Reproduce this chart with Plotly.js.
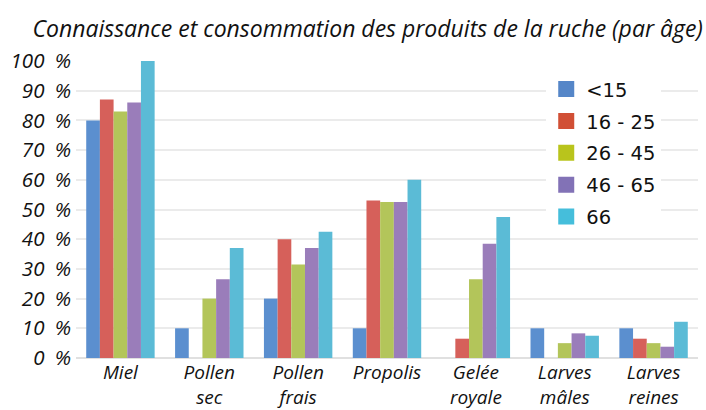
<!DOCTYPE html>
<html><head><meta charset="utf-8">
<script src="https://cdn.plot.ly/plotly-3.0.1.min.js"></script>
<style>body{margin:0;background:#fff}#c{width:706px;height:410px}</style>
</head><body><div id="c"></div>
<script>
const categories = ["Miel","Pollen<br>sec","Pollen<br>frais","Propolis","Gelée<br>royale","Larves<br>mâles","Larves<br>reines"];
const seriesNames = ["<15","16 - 25","26 - 45","46 - 65","66"];
const s1 = [80, 10, 20, 10, 0, 10, 10];
const s2 = [87, 0, 40, 53, 6.5, 0, 6.5];
const s3 = [83, 20, 31.5, 52.5, 26.5, 5, 5];
const s4 = [86, 26.5, 37, 52.5, 38.5, 8.3, 3.8];
const s5 = [100, 37, 42.5, 60, 47.5, 7.5, 12.2];
const tickVals = [0,10,20,30,40,50,60,70,80,90,100];
const tickText = ["0\u2002%","10\u2002%","20\u2002%","30\u2002%","40\u2002%","50\u2002%","60\u2002%","70\u2002%","80\u2002%","90\u2002%","100\u2002%"];
const barColors = ["#5b8fcf","#d6605a","#b3c55a","#9a7dba","#5bbbd6"];
const legendColors = ["#5586c8","#d14f35","#b9c41c","#8272b6","#45bedb"];
const values = [s1,s2,s3,s4,s5];
const FONT = "'Open Sans', sans-serif";
const traces = values.map((v,i)=>({type:"bar",x:categories,y:v,name:seriesNames[i],showlegend:false,marker:{color:barColors[i]}}));
seriesNames.forEach((n,i)=>traces.push({type:"scatter",mode:"markers",x:[null],y:[null],name:n,legendgroup:"g"+i,marker:{symbol:"square",size:16,color:legendColors[i]},hoverinfo:"skip"}));
const layout = {
  width:706,height:410,
  margin:{l:76,r:8,t:61,b:52},
  paper_bgcolor:"#fff",plot_bgcolor:"#fff",
  font:{family:FONT,color:"#111"},
  title:{text:"Connaissance et consommation des produits de la ruche (par âge)",font:{family:FONT,size:23,color:"#111",style:"italic"},x:0.046,xanchor:"left",y:0.93,yanchor:"middle"},
  barmode:"group",bargap:0.23,bargroupgap:0,
  xaxis:{tickfont:{size:19,style:"italic",family:FONT},showline:false,ticks:"",showgrid:false,ticklabelstandoff:1},
  yaxis:{range:[0,100],tickvals:tickVals,ticktext:tickText,tickfont:{size:20.5,style:"italic",family:FONT},gridcolor:"#ebebeb",gridwidth:2,zeroline:true,zerolinecolor:"#e0e0e0",zerolinewidth:2,ticks:"",ticklabelstandoff:4},
  legend:{x:0.756,y:0.97,xanchor:"left",yanchor:"top",bgcolor:"#fff",font:{size:19.5,family:"'DejaVu Sans', sans-serif",color:"#111"},tracegroupgap:3.5,itemwidth:30}
};
Plotly.newPlot("c",traces,layout,{displayModeBar:false});
</script></body></html>
